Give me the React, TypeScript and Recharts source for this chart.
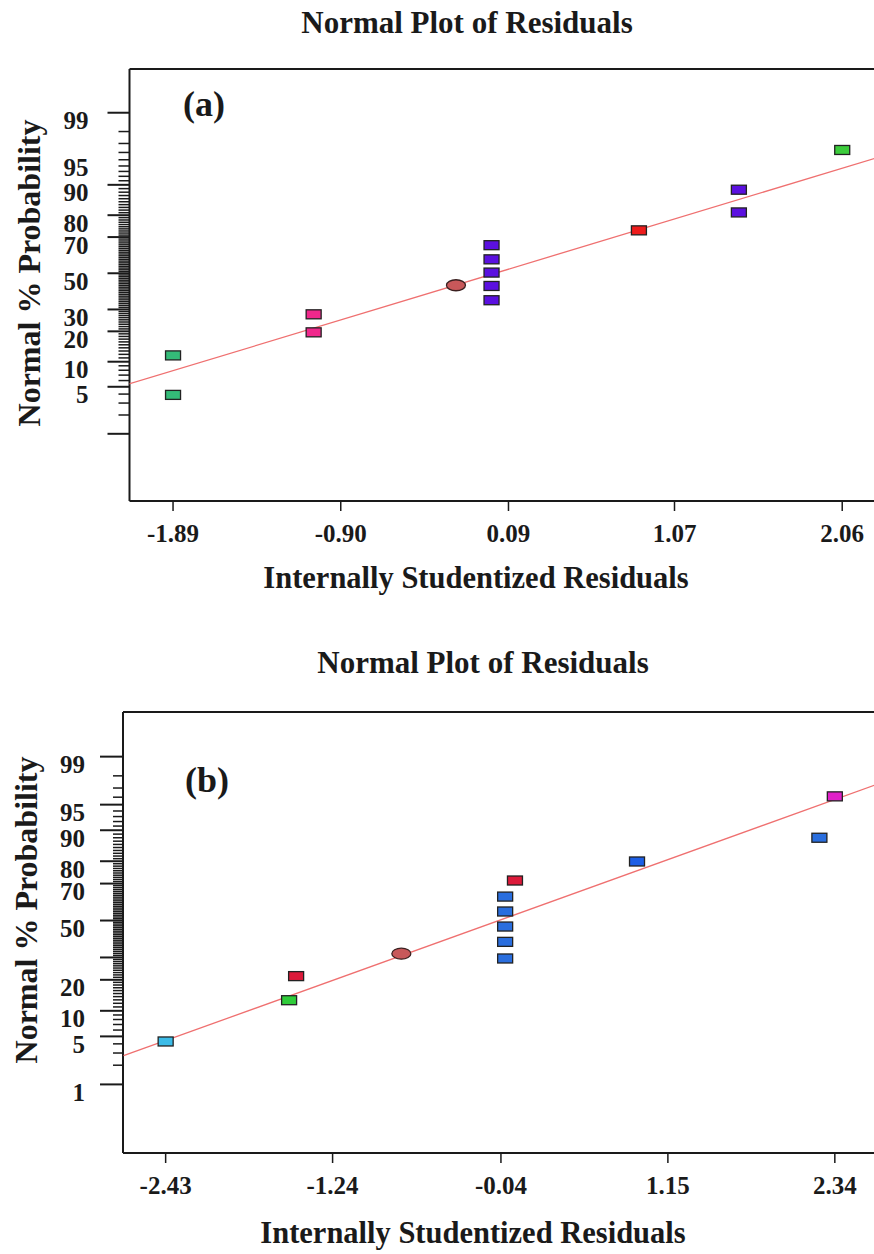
import React from "react";
import { ScatterChart, Scatter, XAxis, YAxis, ReferenceLine } from "recharts";

// Panel (a): internally studentized residuals vs. normal % probability
const residualsA = [-1.89, -1.89, -1.06, -1.06, -0.22, -0.01, -0.01, -0.01, -0.01, -0.01, 0.86, 1.45, 1.45, 2.06];
const probabilityA = [3.9, 11.7, 19.6, 27.6, 43.1, 34.8, 42.7, 50.4, 58.0, 65.8, 73.3, 81.1, 88.7, 96.3];
const fitResidA = [-2.15, 2.28];
const fitProbA = [5.43, 95.41];
const xTicksA = [-1.89, -0.9, 0.09, 1.07, 2.06];
const yLabelsA = [99, 95, 90, 80, 70, 50, 30, 20, 10, 5];
const yMajorA = [99, 90, 80, 70, 50, 30, 20, 10, 5, 1];

// Panel (b)
const residualsB = [-2.43, -1.55, -1.5, -0.75, -0.01, -0.01, -0.01, -0.01, -0.01, 0.06, 0.93, 2.23, 2.34];
const probabilityB = [4.3, 12.9, 21.5, 31.9, 29.5, 38.1, 46.6, 55.1, 63.3, 71.5, 79.9, 88.0, 96.1];
const fitResidB = [-2.73, 2.66];
const fitProbB = [2.75, 97.43];
const xTicksB = [-2.43, -1.24, -0.04, 1.15, 2.34];
const yLabelsB = [99, 95, 90, 80, 70, 50, 20, 10, 5, 1];
const yMajorB = [99, 95, 90, 80, 70, 50, 30, 20, 10, 5, 1];

// every whole percent gets a short tick on the probability axis
const minorPcts = Array.from({ length: 99 }, (_, i) => i + 1);

// marker styling per point
const fillA = ["#34bb78", "#34bb78", "#f0288c", "#f0288c", "#c8585a", "#5b10e0", "#5b10e0", "#5b10e0", "#5b10e0", "#5b10e0", "#ee1c1c", "#5b10e0", "#5b10e0", "#3ccc3c"];
const shapeA = ["r", "r", "r", "r", "e", "r", "r", "r", "r", "r", "r", "r", "r", "r"];
const fillB = ["#3cbce8", "#2fcc3a", "#dc1a3a", "#c8585a", "#2a6ede", "#2a6ede", "#2a6ede", "#2a6ede", "#2a6ede", "#dc1a3a", "#1d5fe6", "#2a6ede", "#e020c8"];
const shapeB = ["r", "r", "r", "e", "r", "r", "r", "r", "r", "r", "r", "r", "r"];

const Y_DOMAIN: [number, number] = [-3.3, 2.96];
const X_DOMAIN_A: [number, number] = [-2.147, 2.283];
const X_DOMAIN_B: [number, number] = [-2.734, 2.662];
const X_AXIS_HEIGHT = 110;

const FONT = "'Liberation Serif', 'Times New Roman', serif";
const INK = "#1a1a1a";
const FIT_COLOR = "#ef7070";

// inverse standard normal CDF (Acklam), percent in -> z out
function probit(pct: number): number {
  const p = pct / 100;
  const a = [-39.69683028665376, 220.9460984245205, -275.9285104469687, 138.357751867269, -30.66479806614716, 2.506628277459239];
  const b = [-54.47609879822406, 161.5858368580409, -155.6989798598866, 66.80131188771972, -13.28068155288572];
  const c = [-0.007784894002430293, -0.3223964580411365, -2.400758277161838, -2.549732539343734, 4.374664141464968, 2.938163982698783];
  const d = [0.007784695709041462, 0.3224671290700398, 2.445134137142996, 3.754408661907416];
  const lo = 0.02425;
  if (p < lo) {
    const q = Math.sqrt(-2 * Math.log(p));
    return (((((c[0] * q + c[1]) * q + c[2]) * q + c[3]) * q + c[4]) * q + c[5]) / ((((d[0] * q + d[1]) * q + d[2]) * q + d[3]) * q + 1);
  }
  if (p <= 1 - lo) {
    const q = p - 0.5;
    const r = q * q;
    return ((((((a[0] * r + a[1]) * r + a[2]) * r + a[3]) * r + a[4]) * r + a[5]) * q) / (((((b[0] * r + b[1]) * r + b[2]) * r + b[3]) * r + b[4]) * r + 1);
  }
  const q = Math.sqrt(-2 * Math.log(1 - p));
  return -(((((c[0] * q + c[1]) * q + c[2]) * q + c[3]) * q + c[4]) * q + c[5]) / ((((d[0] * q + d[1]) * q + d[2]) * q + d[3]) * q + 1);
}

const key = (z: number) => z.toFixed(6);
const pctByZ = new Map(minorPcts.map(p => [key(probit(p)), p]));
const probTicks = minorPcts.map(probit);

type PanelProps = {
  residuals: number[];
  probability: number[];
  fitResid: number[];
  fitProb: number[];
  fills: string[];
  shapes: string[];
  xTicks: number[];
  xDomain: [number, number];
  yLabels: number[];
  yMajor: number[];
  axisLeft: number;
  marginTop: number;
  plotHeight: number;
  labelGap: number;
  longTick: number;
  shortTick: number;
};

function Marker(props: any) {
  const { cx, cy, payload, fills, shapes } = props;
  if (cx == null || cy == null) return <g />;
  const fill = fills[payload.i];
  if (shapes[payload.i] === "e") {
    return <ellipse cx={cx} cy={cy} rx={9.5} ry={5.5} fill={fill} stroke="#3a2020" strokeWidth={1.3} />;
  }
  return <rect x={cx - 7.5} y={cy - 4.5} width={15} height={9} fill={fill} stroke="#222" strokeWidth={1.3} />;
}

function Panel(p: PanelProps) {
  const rows = p.residuals.map((x, i) => ({ x, z: probit(p.probability[i]), i }));
  const fit = p.fitResid.map((x, i) => ({ x, z: probit(p.fitProb[i]), i }));

  const yTick = (t: any) => {
    const pct = pctByZ.get(key(t.payload.value));
    if (pct == null) return <g />;
    const major = p.yMajor.includes(pct);
    const len = major ? p.longTick : p.shortTick;
    return (
      <g>
        <line x1={t.x - len} x2={t.x} y1={t.y} y2={t.y} stroke={INK} strokeWidth={major ? 2 : 1.5} />
        {p.yLabels.includes(pct) && (
          <text
            x={t.x - p.labelGap}
            y={t.y + 8}
            textAnchor="end"
            dominantBaseline="central"
            fontFamily={FONT}
            fontWeight="bold"
            fontSize={25}
            fill={INK}
          >
            {pct}
          </text>
        )}
      </g>
    );
  };

  const xTick = (t: any) => (
    <text
      x={t.x}
      y={t.y + 22}
      textAnchor="middle"
      dominantBaseline="central"
      fontFamily={FONT}
      fontWeight="bold"
      fontSize={25}
      fill={INK}
    >
      {Number(t.payload.value).toFixed(2)}
    </text>
  );

  return (
    <ScatterChart
      width={880}
      height={p.marginTop + p.plotHeight + X_AXIS_HEIGHT}
      margin={{ top: p.marginTop, right: 0, bottom: 0, left: 0 }}
    >
      <XAxis
        type="number"
        dataKey="x"
        domain={p.xDomain}
        allowDataOverflow
        ticks={p.xTicks}
        interval={0}
        tick={xTick}
        tickSize={10}
        tickMargin={0}
        tickLine={{ stroke: INK, strokeWidth: 1.5 }}
        axisLine={{ stroke: INK, strokeWidth: 2 }}
        height={X_AXIS_HEIGHT}
      />
      <YAxis
        type="number"
        dataKey="z"
        domain={Y_DOMAIN}
        allowDataOverflow
        ticks={probTicks}
        interval={0}
        tick={yTick}
        tickLine={false}
        tickSize={0}
        tickMargin={0}
        width={p.axisLeft}
        axisLine={{ stroke: INK, strokeWidth: 2 }}
      />
      <ReferenceLine y={Y_DOMAIN[1]} stroke={INK} strokeWidth={2} />
      <Scatter
        data={fit}
        line={{ stroke: FIT_COLOR, strokeWidth: 1.3 }}
        shape={() => <g />}
        isAnimationActive={false}
      />
      <Scatter
        data={rows}
        shape={(s: any) => <Marker {...s} fills={p.fills} shapes={p.shapes} />}
        isAnimationActive={false}
      />
    </ScatterChart>
  );
}

const textStyle = (cx: number, cy: number, size: number, rotate = 0): React.CSSProperties => ({
  position: "absolute",
  left: cx,
  top: cy,
  transform: `translate(-50%, -50%) rotate(${rotate}deg)`,
  fontFamily: FONT,
  fontWeight: "bold",
  fontSize: size,
  lineHeight: 1,
  whiteSpace: "nowrap",
  color: INK,
});

export default function App() {
  return (
    <div style={{ position: "absolute", left: 0, top: 0, width: 874, height: 1254, overflow: "hidden", background: "#fff" }}>
      <div style={{ position: "absolute", left: 0, top: 0 }}>
        <Panel
          residuals={residualsA}
          probability={probabilityA}
          fitResid={fitResidA}
          fitProb={fitProbA}
          fills={fillA}
          shapes={shapeA}
          xTicks={xTicksA}
          xDomain={X_DOMAIN_A}
          yLabels={yLabelsA}
          yMajor={yMajorA}
          axisLeft={129.5}
          marginTop={69}
          plotHeight={432}
          labelGap={41}
          longTick={22}
          shortTick={11}
        />
      </div>
      <div style={{ position: "absolute", left: 0, top: 640 }}>
        <Panel
          residuals={residualsB}
          probability={probabilityB}
          fitResid={fitResidB}
          fitProb={fitProbB}
          fills={fillB}
          shapes={shapeB}
          xTicks={xTicksB}
          xDomain={X_DOMAIN_B}
          yLabels={yLabelsB}
          yMajor={yMajorB}
          axisLeft={123}
          marginTop={72}
          plotHeight={441}
          labelGap={38}
          longTick={23}
          shortTick={10}
        />
      </div>

      <div style={textStyle(467, 22, 31)}>Normal Plot of Residuals</div>
      <div style={textStyle(204, 104, 36)}>(a)</div>
      <div style={textStyle(29, 273, 32, -90)}>Normal % Probability</div>
      <div style={textStyle(476, 578, 30.5)}>Internally Studentized Residuals</div>

      <div style={textStyle(483, 662, 31)}>Normal Plot of Residuals</div>
      <div style={textStyle(207, 780, 36)}>(b)</div>
      <div style={textStyle(26, 910, 32, -90)}>Normal % Probability</div>
      <div style={textStyle(473, 1233, 30.5)}>Internally Studentized Residuals</div>
    </div>
  );
}
